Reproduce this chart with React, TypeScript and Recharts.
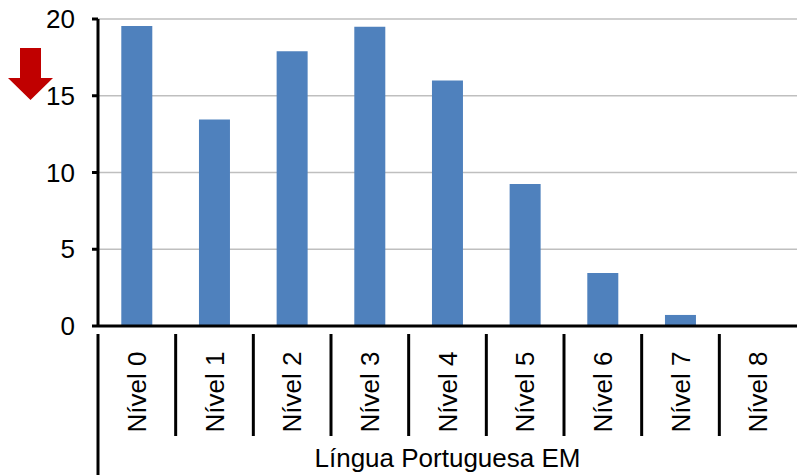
import { BarChart, Bar, XAxis, YAxis, CartesianGrid } from 'recharts';

const niveis = ['Nível 0', 'Nível 1', 'Nível 2', 'Nível 3', 'Nível 4', 'Nível 5', 'Nível 6', 'Nível 7', 'Nível 8'];
const percentuais = [19.55, 13.45, 17.9, 19.5, 16.0, 9.25, 3.45, 0.72, 0];
const yTicks = [0, 5, 10, 15, 20];
const groupLabel = 'Língua Portuguesa EM';

const data = niveis.map((nivel, i) => ({ nivel, valor: percentuais[i] }));

const W = 797;
const H = 475;
const LEFT = 98;
const TOP = 19;
const BOTTOM = 149;
const FONT = '"Liberation Sans", Arial, sans-serif';
const FS = 26;
const band = (W - LEFT) / niveis.length;

function CategoryTick(props: any) {
  const { x, y, payload, index } = props;
  const left = x - band / 2;
  return (
    <g>
      <line x1={left} y1={y} x2={left} y2={index === 0 ? H : y + 102} stroke="#000" strokeWidth={3} />
      <text
        x={x}
        y={y + 58}
        transform={`rotate(-90, ${x}, ${y + 58})`}
        textAnchor="middle"
        dy="0.35em"
        fill="#000"
        fontSize={FS}
        fontFamily={FONT}
      >
        {payload.value}
      </text>
    </g>
  );
}

function GroupLabel(props: any) {
  const { viewBox } = props;
  const cx = viewBox.x + viewBox.width / 2;
  return (
    <text x={cx} y={467} textAnchor="middle" fill="#000" fontSize={FS} fontFamily={FONT}>
      {groupLabel}
    </text>
  );
}

export default function App() {
  return (
    <div style={{ position: 'absolute', left: 0, top: 0, width: W, height: H }}>
      <BarChart
        width={W}
        height={H}
        data={data}
        margin={{ top: TOP, right: 0, bottom: 0, left: 0 }}
        barCategoryGap="30%"
      >
        <CartesianGrid vertical={false} stroke="#BFBFBF" strokeWidth={1.5} />
        <XAxis
          dataKey="nivel"
          height={BOTTOM}
          axisLine={{ stroke: '#000', strokeWidth: 3 }}
          tickLine={false}
          interval={0}
          tick={<CategoryTick />}
          label={<GroupLabel />}
        />
        <YAxis
          width={LEFT}
          domain={[0, 20]}
          ticks={yTicks}
          interval={0}
          axisLine={{ stroke: '#000', strokeWidth: 3 }}
          tickLine={{ stroke: '#000', strokeWidth: 3 }}
          tickSize={6}
          tickMargin={17}
          tick={{ fill: '#000', fontSize: FS, fontFamily: FONT }}
        />
        <Bar dataKey="valor" fill="#4F81BD" isAnimationActive={false} />
      </BarChart>
      <svg width={60} height={110} style={{ position: 'absolute', left: 0, top: 0 }}>
        <polygon points="20,48 41,48 41,78 53,78 30.5,100 8,78 20,78" fill="#C00000" />
      </svg>
    </div>
  );
}
